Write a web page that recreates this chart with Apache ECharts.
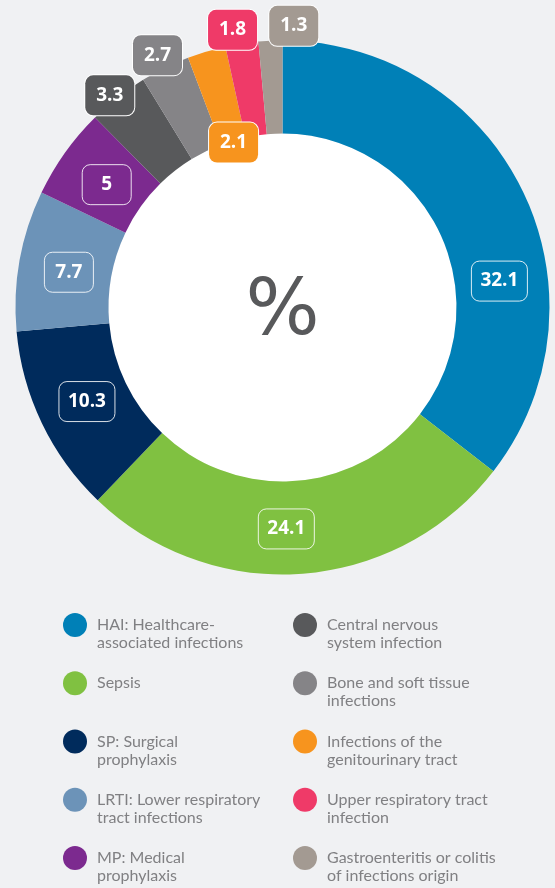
<!DOCTYPE html>
<html><head><meta charset="utf-8">
<script src="https://cdn.jsdelivr.net/npm/echarts@6/dist/echarts.min.js"></script>
<style>html,body{margin:0;padding:0;background:#f0f1f3;}#c{width:555px;height:888px;}</style>
</head><body><div id="c"></div>
<script>
const categories = [
  'HAI: Healthcare-associated infections',
  'Sepsis',
  'SP: Surgical prophylaxis',
  'LRTI: Lower respiratory tract infections',
  'MP: Medical prophylaxis',
  'Central nervous system infection',
  'Bone and soft tissue infections',
  'Infections of the genitourinary tract',
  'Upper respiratory tract infection',
  'Gastroenteritis or colitis of infections origin'
];
const values = [32.1, 24.1, 10.3, 7.7, 5, 3.3, 2.7, 2.1, 1.8, 1.3];
const legendLines = [
  ['HAI: Healthcare-', 'associated infections'],
  ['Sepsis', '\u00a0'],
  ['SP: Surgical', 'prophylaxis'],
  ['LRTI: Lower respiratory', 'tract infections'],
  ['MP: Medical', 'prophylaxis'],
  ['Central nervous', 'system infection'],
  ['Bone and soft tissue', 'infections'],
  ['Infections of the', 'genitourinary tract'],
  ['Upper respiratory tract', 'infection'],
  ['Gastroenteritis or colitis', 'of infections origin']
];
const colors = ['#0080b7','#80c141','#002b5c','#6c93b8','#7c2a8f','#58595b','#858487','#f7941e','#ef3a68','#a39a92'];

const insideIdx = [0, 1, 2, 3, 4];
const outerIdx = [5, 6, 8, 9];
const innerIdx = [7];

const CX = 282.5, CY = 307.5;
const boxLabel = {
  position: 'inside',
  fontFamily: 'Open Sans', fontWeight: 'bold', fontSize: 19, lineHeight: 20,
  color: '#fff', borderColor: '#fff', borderWidth: 1, borderRadius: 8, padding: [10, 9],
  align: 'center',
  formatter: '{c}'
};

function ringData() {
  return categories.map((n, i) => ({ name: n, value: values[i], itemStyle: { color: colors[i] } }));
}
function labelData(idx, filled) {
  return categories.map((n, i) => {
    const short = String(values[i]).length <= 3;
    const lab = { show: idx.includes(i) };
    if (short) lab.width = 31;
    if (filled) lab.backgroundColor = colors[i];
    return { name: n, value: values[i], itemStyle: { color: 'rgba(0,0,0,0)' }, label: lab };
  });
}
function labelSeries(radius, idx, filled, shift, border) {
  return {
    type: 'pie', center: [CX, CY], radius: radius, startAngle: 90, silent: true,
    avoidLabelOverlap: false,
    data: labelData(idx, filled),
    label: Object.assign({}, boxLabel, { borderColor: border }),
    labelLine: { show: false }, emphasis: { disabled: true },
    labelLayout: p => shift[p.dataIndex] || {}
  };
}

const insideShift = { 0: { dx: 22, dy: 69 }, 1: { dx: -12, dy: 5 }, 3: { dx: 0, dy: 3 }, 4: { dx: 1, dy: 3 } };
const outerShift = { 5: { dx: 1, dy: 10 }, 6: { dx: -1, dy: 1 }, 8: { dx: -7, dy: 1 }, 9: { dx: 24, dy: 0 } };

const legendRich = {
  s: { fontSize: 10, lineHeight: 18 },
  t: { fontFamily: 'Lato', fontSize: 16, lineHeight: 18, color: '#808083', padding: [0, 0, 0, 5] }
};

const chart = echarts.init(document.getElementById('c'), null, { renderer: 'canvas' });
chart.setOption({
  backgroundColor: '#f0f1f3',
  animation: false,
  legend: [0, 1].map(col => ({
    data: categories.slice(col * 5, col * 5 + 5),
    orient: 'vertical', left: col ? 293 : 63, top: 602, padding: 0,
    itemGap: 9.25, itemWidth: 24, itemHeight: 24, icon: 'circle', selectedMode: false,
    formatter: name => '{s| }\n' + legendLines[categories.indexOf(name)].map(l => '{t|' + l + '}').join('\n'),
    textStyle: { rich: legendRich }
  })),
  series: [
    {
      type: 'pie', center: [CX, CY], radius: [0, 174], silent: true,
      data: [{ name: 'centre', value: 1, itemStyle: { color: '#ffffff' } }],
      label: { show: true, position: 'center', formatter: '%', fontFamily: 'DejaVu Sans', fontSize: 78, color: '#58595b' },
      labelLine: { show: false }, emphasis: { disabled: true },
      labelLayout: () => ({ dy: 6 })
    },
    {
      type: 'pie', center: [CX, CY], radius: [174, 267], startAngle: 90, silent: true,
      data: ringData(),
      label: { show: false }, labelLine: { show: false }, emphasis: { disabled: true }
    },
    labelSeries([168, 260], insideIdx, false, insideShift, 'rgba(255,255,255,0.85)'),
    labelSeries([265, 293], outerIdx, true, outerShift, '#ffffff'),
    labelSeries([156, 182], innerIdx, true, {}, '#ffffff')
  ]
});
</script></body></html>
